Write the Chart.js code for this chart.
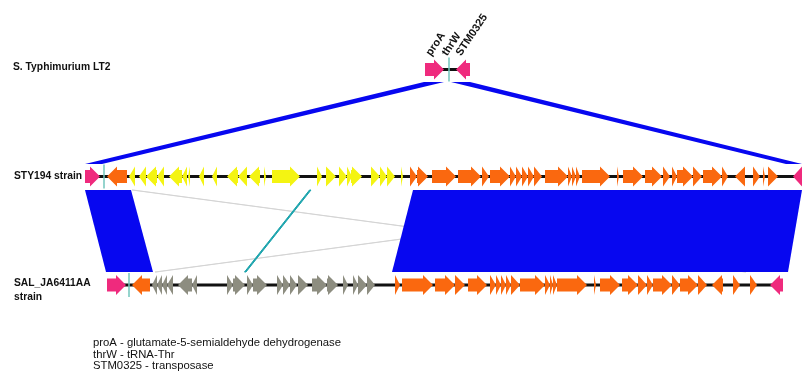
<!DOCTYPE html>
<html>
<head>
<meta charset="utf-8">
<title>proA region comparison</title>
<script src="https://cdn.jsdelivr.net/npm/chart.js@4.4.1/dist/chart.umd.min.js"></script>
<style>
  html, body { margin: 0; padding: 0; background: #ffffff; }
  #wrap { width: 802px; height: 373px; position: relative; }
</style>
</head>
<body>
<div id="wrap"><canvas id="map"></canvas></div>
<script>
// Positions are in kb along the figure axis.
const axisRangeKb = [-8.5, 71.7];

// Genes: [start, end, strand, colour]
const lt2Genes = [
  [34.0, 35.9, 1, 'pink'],
  [37.1, 38.5, -1, 'pink']
];
const lt2Trna = [36.4];

const sty194Genes = [
  [0.0, 1.5, 1, 'pink'],
  [2.2, 4.2, -1, 'orange'],
  [4.4, 5.0, -1, 'yellow'],
  [5.4, 6.1, -1, 'yellow'],
  [6.1, 7.2, -1, 'yellow'],
  [7.2, 7.9, -1, 'yellow'],
  [8.4, 9.7, -1, 'yellow'],
  [9.7, 10.2, -1, 'yellow'],
  [10.3, 10.5, -1, 'yellow'],
  [11.4, 11.9, -1, 'yellow'],
  [12.7, 13.2, -1, 'yellow'],
  [14.2, 15.3, -1, 'yellow'],
  [15.3, 16.2, -1, 'yellow'],
  [16.4, 17.5, -1, 'yellow'],
  [17.9, 18.1, 1, 'yellow'],
  [18.7, 21.5, 1, 'yellow'],
  [23.2, 23.7, 1, 'yellow'],
  [24.1, 25.1, 1, 'yellow'],
  [25.4, 26.2, 1, 'yellow'],
  [26.2, 26.7, 1, 'yellow'],
  [26.6, 27.7, 1, 'yellow'],
  [28.6, 29.5, 1, 'yellow'],
  [29.5, 30.2, 1, 'yellow'],
  [30.2, 31.0, 1, 'yellow'],
  [31.6, 31.8, 1, 'yellow'],
  [32.5, 33.2, 1, 'orange'],
  [33.2, 34.3, 1, 'orange'],
  [34.7, 37.1, 1, 'orange'],
  [37.3, 39.6, 1, 'orange'],
  [39.7, 40.4, 1, 'orange'],
  [40.5, 42.5, 1, 'orange'],
  [42.5, 43.1, 1, 'orange'],
  [43.1, 43.7, 1, 'orange'],
  [43.7, 44.3, 1, 'orange'],
  [44.3, 44.9, 1, 'orange'],
  [44.9, 45.7, 1, 'orange'],
  [46.0, 48.3, 1, 'orange'],
  [48.3, 48.7, 1, 'orange'],
  [48.7, 49.1, 1, 'orange'],
  [49.1, 49.5, 1, 'orange'],
  [49.7, 52.5, 1, 'orange'],
  [53.2, 53.4, 1, 'orange'],
  [53.8, 55.8, 1, 'orange'],
  [56.0, 57.7, 1, 'orange'],
  [57.8, 58.5, 1, 'orange'],
  [58.7, 59.2, 1, 'orange'],
  [59.2, 60.8, 1, 'orange'],
  [60.8, 61.7, 1, 'orange'],
  [61.8, 63.7, 1, 'orange'],
  [63.7, 64.3, 1, 'orange'],
  [65.0, 66.0, -1, 'orange'],
  [66.8, 67.5, 1, 'orange'],
  [67.8, 68.0, 1, 'orange'],
  [68.3, 69.3, 1, 'orange'],
  [70.8, 71.7, -1, 'pink']
];
const sty194Trna = [1.9];

const salGenes = [
  [2.2, 4.1, 1, 'pink'],
  [4.7, 6.5, -1, 'orange'],
  [6.7, 7.2, -1, 'grey'],
  [7.2, 7.7, -1, 'grey'],
  [7.7, 8.2, -1, 'grey'],
  [8.2, 8.8, -1, 'grey'],
  [9.3, 10.7, -1, 'grey'],
  [10.7, 11.2, -1, 'grey'],
  [14.2, 14.8, 1, 'grey'],
  [14.8, 16.0, 1, 'grey'],
  [16.2, 16.8, 1, 'grey'],
  [16.8, 18.2, 1, 'grey'],
  [19.2, 19.8, 1, 'grey'],
  [19.8, 20.5, 1, 'grey'],
  [20.5, 21.2, 1, 'grey'],
  [21.3, 22.3, 1, 'grey'],
  [22.7, 24.2, 1, 'grey'],
  [24.2, 25.3, 1, 'grey'],
  [25.8, 26.3, 1, 'grey'],
  [26.8, 27.3, 1, 'grey'],
  [27.3, 28.2, 1, 'grey'],
  [28.2, 29.0, 1, 'grey'],
  [31.0, 31.5, 1, 'orange'],
  [31.7, 34.8, 1, 'orange'],
  [35.0, 37.0, 1, 'orange'],
  [37.0, 38.0, 1, 'orange'],
  [38.3, 40.2, 1, 'orange'],
  [40.5, 41.1, 1, 'orange'],
  [41.1, 41.6, 1, 'orange'],
  [41.6, 42.1, 1, 'orange'],
  [42.1, 42.6, 1, 'orange'],
  [42.6, 43.5, 1, 'orange'],
  [43.5, 46.0, 1, 'orange'],
  [46.0, 46.5, 1, 'orange'],
  [46.5, 46.8, 1, 'orange'],
  [46.8, 47.2, 1, 'orange'],
  [47.2, 50.2, 1, 'orange'],
  [50.9, 51.1, 1, 'orange'],
  [51.5, 53.5, 1, 'orange'],
  [53.7, 55.3, 1, 'orange'],
  [55.3, 56.2, 1, 'orange'],
  [56.2, 56.8, 1, 'orange'],
  [56.8, 58.7, 1, 'orange'],
  [58.7, 59.5, 1, 'orange'],
  [59.5, 61.3, 1, 'orange'],
  [61.3, 62.2, 1, 'orange'],
  [62.7, 63.8, -1, 'orange'],
  [64.8, 65.5, 1, 'orange'],
  [66.5, 67.2, 1, 'orange'],
  [68.5, 69.8, -1, 'pink']
];
const salTrna = [4.4];

// Contig extents (backbone line)
const lt2Extent = [34.0, 38.5];
const sty194Extent = [0.0, 71.7];
const salExtent = [2.2, 69.8];

// BLAST matches: [upper start, upper end, lower start, lower end, kind]
const lt2VsSty194 = [
  [33.9, 35.9, 0.0, 1.7, 'strong'],
  [36.6, 38.5, 70.1, 71.7, 'strong']
];
const sty194VsSal = [
  [4.7, 4.8, 66.0, 66.1, 'weak'],
  [68.2, 68.3, 7.0, 7.1, 'weak'],
  [22.45, 22.6, 15.95, 16.1, 'inverted'],
  [0.0, 4.6, 2.1, 6.8, 'strong'],
  [32.8, 71.7, 30.7, 70.3, 'strong']
];

const trackNames = ['S. Typhimurium LT2', 'STY194 strain', 'SAL_JA6411AA\nstrain'];
const geneLabels = ['proA', 'thrW', 'STM0325'];
const geneLabelKb = [34.6, 36.2, 37.6];
const legendLines = [
  'proA - glutamate-5-semialdehyde dehydrogenase',
  'thrW - tRNA-Thr',
  'STM0325 - transposase'
];

// ---- drawing style ----
const palette = {
  pink: '#ef2a7d',
  orange: '#fa680f',
  yellow: '#f4f412',
  grey: '#8d8d80',
  trna: '#72c6bd',
  strong: '#0707f0',
  weak: '#d2d2d2',
  inverted: '#1aa3ac'
};
const rowY = { lt2: 69.5, sty194: 176.5, sal: 285 };
const matchY = { lt2Bottom: 82, styTop: 164, styBottom: 190, salTop: 272 };
const FONT = '"Liberation Sans", Arial, Helvetica, sans-serif';

const tracks = [
  { y: rowY.lt2, extent: lt2Extent, genes: lt2Genes, trna: lt2Trna },
  { y: rowY.sty194, extent: sty194Extent, genes: sty194Genes, trna: sty194Trna },
  { y: rowY.sal, extent: salExtent, genes: salGenes, trna: salTrna }
];

function drawMatches(ctx, xs, ys, list, yTop, yBot) {
  list.forEach(([a1, a2, b1, b2, kind]) => {
    const t = ys.getPixelForValue(yTop), b = ys.getPixelForValue(yBot);
    ctx.beginPath();
    ctx.moveTo(xs.getPixelForValue(a1), t);
    ctx.lineTo(xs.getPixelForValue(a2), t);
    ctx.lineTo(xs.getPixelForValue(b2), b);
    ctx.lineTo(xs.getPixelForValue(b1), b);
    ctx.closePath();
    ctx.fillStyle = palette[kind];
    ctx.fill();
    if (kind !== 'strong') {
      ctx.strokeStyle = palette[kind];
      ctx.lineWidth = kind === 'weak' ? 0.8 : 1;
      ctx.stroke();
    }
  });
}

function drawGene(ctx, xs, cy, g) {
  const [s, e, strand, col] = g;
  const x1 = xs.getPixelForValue(s), x2 = xs.getPixelForValue(e);
  const len = x2 - x1;
  const head = Math.min(len, 10);
  const bh = 6.5, hh = 10;
  ctx.beginPath();
  if (strand > 0) {
    const hx = x2 - head;
    ctx.moveTo(x1, cy - bh);
    ctx.lineTo(hx, cy - bh);
    ctx.lineTo(hx, cy - hh);
    ctx.lineTo(x2, cy);
    ctx.lineTo(hx, cy + hh);
    ctx.lineTo(hx, cy + bh);
    ctx.lineTo(x1, cy + bh);
  } else {
    const hx = x1 + head;
    ctx.moveTo(x2, cy - bh);
    ctx.lineTo(hx, cy - bh);
    ctx.lineTo(hx, cy - hh);
    ctx.lineTo(x1, cy);
    ctx.lineTo(hx, cy + hh);
    ctx.lineTo(hx, cy + bh);
    ctx.lineTo(x2, cy + bh);
  }
  ctx.closePath();
  ctx.fillStyle = palette[col];
  ctx.fill();
}

const genomeMapPlugin = {
  id: 'genomeMap',
  beforeDatasetsDraw(chart) {
    const ctx = chart.ctx, xs = chart.scales.x, ys = chart.scales.y;
    ctx.save();
    drawMatches(ctx, xs, ys, lt2VsSty194, matchY.lt2Bottom, matchY.styTop);
    drawMatches(ctx, xs, ys, sty194VsSal, matchY.styBottom, matchY.salTop);

    tracks.forEach(tr => {
      const cy = ys.getPixelForValue(tr.y);
      // backbone
      ctx.strokeStyle = '#111111';
      ctx.lineWidth = 3;
      ctx.beginPath();
      ctx.moveTo(xs.getPixelForValue(tr.extent[0]), cy);
      ctx.lineTo(xs.getPixelForValue(tr.extent[1]), cy);
      ctx.stroke();
      tr.genes.forEach(g => drawGene(ctx, xs, cy, g));
      // tRNA marks
      ctx.strokeStyle = palette.trna;
      ctx.lineWidth = 1.5;
      tr.trna.forEach(p => {
        const px = xs.getPixelForValue(p);
        ctx.beginPath();
        ctx.moveTo(px, cy - 12);
        ctx.lineTo(px, cy + 12);
        ctx.stroke();
      });
    });
    ctx.restore();
  },
  afterDraw(chart) {
    const ctx = chart.ctx, xs = chart.scales.x, ys = chart.scales.y;
    ctx.save();
    ctx.fillStyle = '#111111';
    ctx.textAlign = 'left';
    ctx.textBaseline = 'middle';
    ctx.font = 'bold 10.3px ' + FONT;
    ctx.fillText(trackNames[0], 13, ys.getPixelForValue(rowY.lt2) - 2);
    ctx.fillText(trackNames[1], 14, ys.getPixelForValue(rowY.sty194));
    const salLines = trackNames[2].split('\n');
    ctx.fillText(salLines[0], 14, ys.getPixelForValue(rowY.sal) - 2);
    ctx.fillText(salLines[1], 14, ys.getPixelForValue(rowY.sal) + 12);

    // gene names above the LT2 region
    ctx.font = 'bold 11px ' + FONT;
    ctx.textBaseline = 'alphabetic';
    const top = ys.getPixelForValue(rowY.lt2) - 13;
    geneLabels.forEach((txt, i) => {
      ctx.save();
      ctx.translate(xs.getPixelForValue(geneLabelKb[i]), top);
      ctx.rotate(-56 * Math.PI / 180);
      ctx.fillText(txt, 0, 0);
      ctx.restore();
    });

    // key
    ctx.font = '11.3px ' + FONT;
    ctx.textBaseline = 'middle';
    legendLines.forEach((txt, i) => ctx.fillText(txt, 93, 343 + i * 11.5));
    ctx.restore();
  }
};

new Chart(document.getElementById('map'), {
  type: 'scatter',
  data: { datasets: [{ data: [], pointRadius: 0 }] },
  options: {
    responsive: true,
    maintainAspectRatio: false,
    animation: false,
    events: [],
    layout: { padding: 0 },
    plugins: { legend: { display: false }, tooltip: { enabled: false } },
    scales: {
      x: { type: 'linear', min: axisRangeKb[0], max: axisRangeKb[1], display: false },
      y: { type: 'linear', min: 0, max: 373, reverse: true, display: false }
    }
  },
  plugins: [genomeMapPlugin]
});
</script>
</body>
</html>
